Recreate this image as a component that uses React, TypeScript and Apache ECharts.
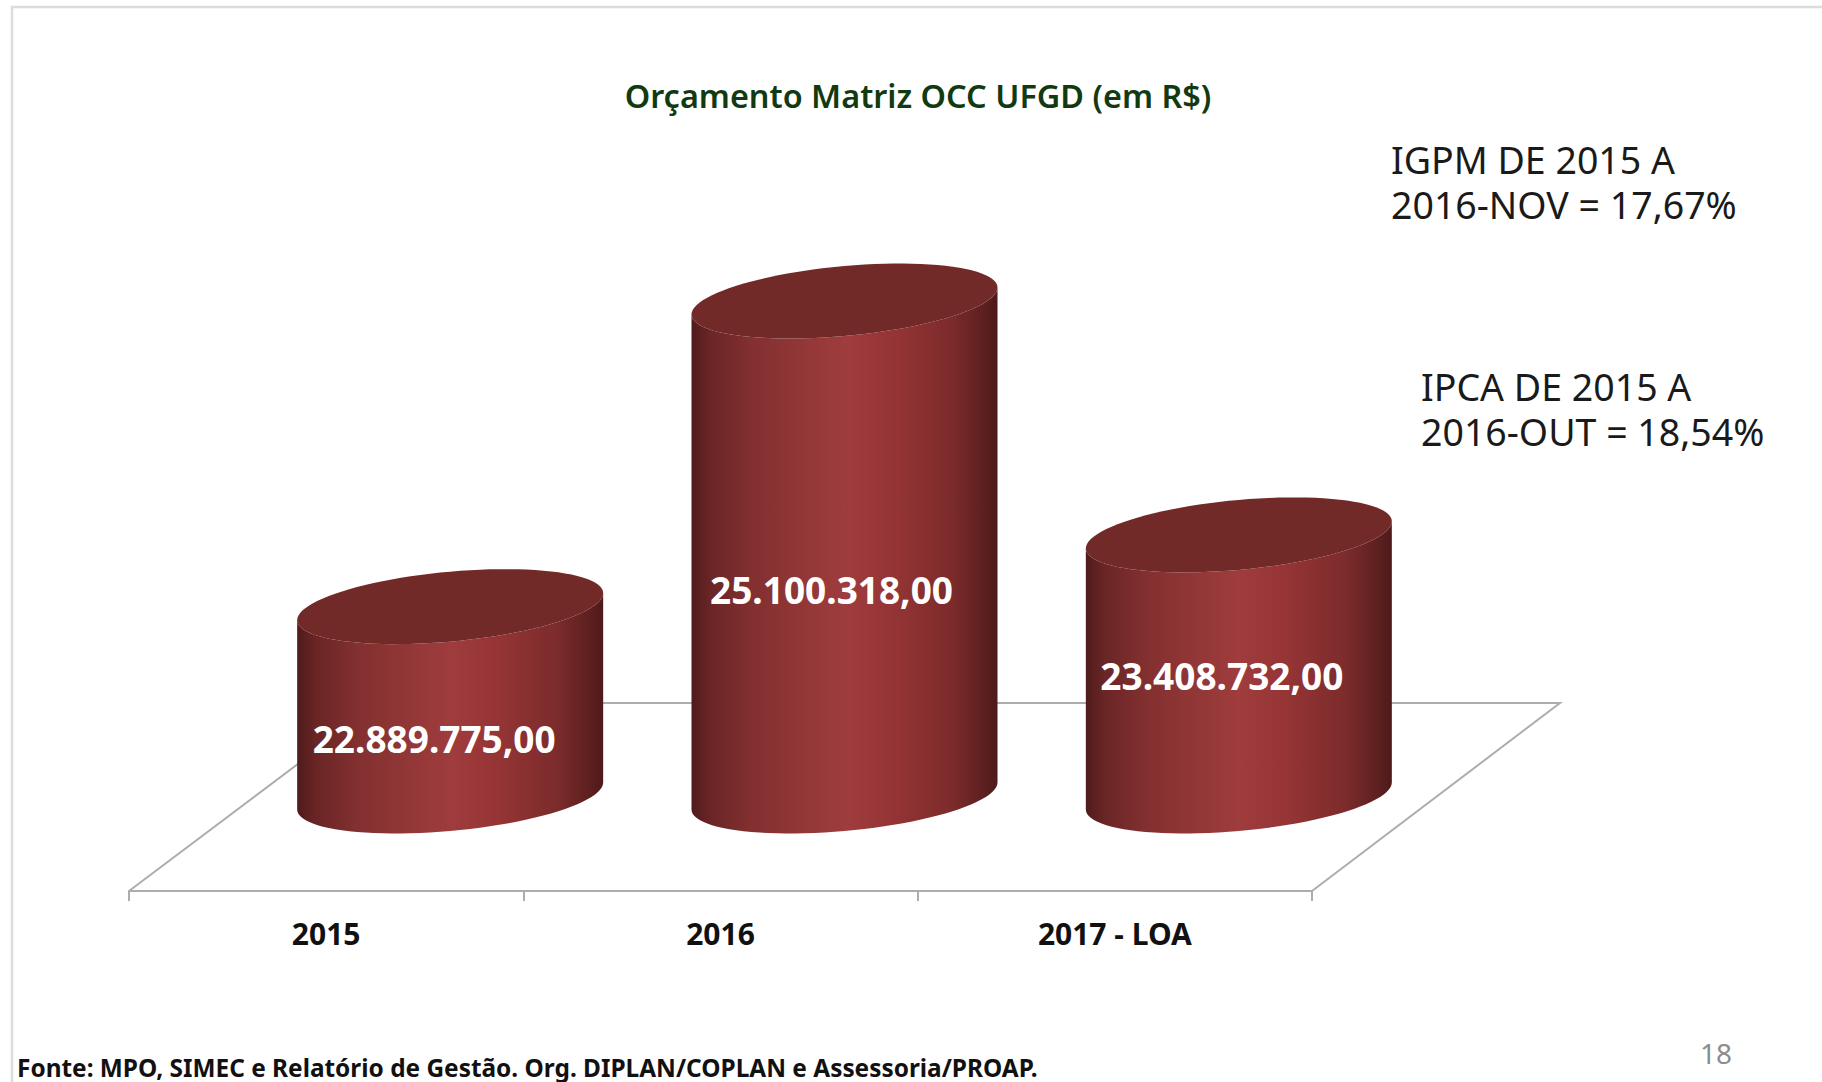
import React, { useEffect, useRef } from "react";
import * as echarts from "echarts";

const titleText = "Orçamento Matriz OCC UFGD (em R$)";
const categories = ["2015", "2016", "2017 - LOA"];
const budgetValues = [22889775, 25100318, 23408732];
const igpmNote = "IGPM DE 2015 A\n2016-NOV = 17,67%";
const ipcaNote = "IPCA DE 2015 A\n2016-OUT = 18,54%";
const sourceNote = "Fonte: MPO, SIMEC e Relatório de Gestão. Org. DIPLAN/COPLAN e Assessoria/PROAP.";
const pageNumber = "18";

const W = 1822;
const H = 1082;
const labelNudges = [[-16, 37], [-13, 41], [-17, 10]];

function formatBRL(v: number) {
  const s = String(Math.round(v)).replace(/\B(?=(\d{3})+(?!\d))/g, ".");
  return s + ",00";
}

const FLOOR = { fl: [129, 891], bl: [379, 703], br: [1560, 703], fr: [1312, 891] };

export default function App() {
  const ref = useRef<HTMLDivElement>(null);
  useEffect(() => {
    const chart = echarts.init(ref.current!, undefined, { renderer: "svg" });
    const sideFill = new echarts.graphic.LinearGradient(0, 0, 1, 0, [
      { offset: 0, color: "#4f1b1b" },
      { offset: 0.06, color: "#6a2525" },
      { offset: 0.2, color: "#833030" },
      { offset: 0.5, color: "#9f3c3d" },
      { offset: 0.64, color: "#973536" },
      { offset: 0.85, color: "#7c2b2b" },
      { offset: 0.95, color: "#5f2020" },
      { offset: 1, color: "#4e1a1a" },
    ]);
    const renderCylinder = (params: any, api: any) => {
      const i = api.value(0);
      const top = api.coord([i, api.value(1)]);
      const base = api.coord([i, 21520000]);
      const band = api.size([1, 0])[0];
      const a = band * 0.388;
      const b = 35;
      const shear = 13.5;
      const cx = top[0];
      const steps = 96;
      const ell = (cy: number, t: number) => {
        const c = Math.cos(t);
        return [cx + a * c, cy + b * Math.sin(t) - shear * c];
      };
      const topPts: number[][] = [];
      for (let s = 0; s < steps; s++) topPts.push(ell(top[1], (s / steps) * Math.PI * 2));
      const sidePts: number[][] = [];
      for (let s = 0; s <= steps / 2; s++) sidePts.push(ell(base[1], (s / (steps / 2)) * Math.PI));
      for (let s = steps / 2; s >= 0; s--) sidePts.push(ell(top[1], (s / (steps / 2)) * Math.PI));
      const nudge = labelNudges[i];
      return {
        type: "group",
        children: [
          { type: "polygon", shape: { points: sidePts }, style: { fill: sideFill } },
          { type: "polygon", shape: { points: topPts }, style: { fill: "#722a28" } },
          {
            type: "text",
            x: cx + nudge[0],
            y: (top[1] + base[1]) / 2 + nudge[1],
            style: {
              text: formatBRL(api.value(1)),
              fill: "#ffffff",
              font: 'bold 37px "Noto Sans"',
              align: "center",
              verticalAlign: "middle",
            },
          },
        ],
      };
    };

    const gray = "#adadad";
    const textEl = (x: number, y: number, text: string, font: string, fill: string, lineHeight?: number) => ({
      type: "text",
      x,
      y,
      z: 5,
      style: { text, font, fill, lineHeight, verticalAlign: "top" },
    });

    chart.setOption({
      animation: false,
      backgroundColor: "#ffffff",
      title: {
        text: titleText,
        left: 913,
        top: 74,
        textAlign: "center",
        textStyle: { color: "#123a10", fontFamily: "Noto Sans", fontSize: 32.4, fontWeight: 600 },
      },
      grid: [
        { left: 129, top: 790, width: 1183, height: 101 },
        { left: 253, top: 243, width: 1183, height: 553 },
      ],
      xAxis: [
        {
          type: "category",
          gridIndex: 0,
          data: categories,
          axisLine: { lineStyle: { color: gray, width: 2 } },
          axisTick: { show: true, length: 10, lineStyle: { color: gray, width: 2 } },
          axisLabel: {
            margin: 27,
            color: "#111111",
            fontFamily: "Noto Sans",
            fontWeight: "bold",
            fontSize: 30,
            interval: 0,
          },
        },
        { type: "category", gridIndex: 1, data: categories, show: false },
      ],
      yAxis: [
        { type: "value", gridIndex: 0, show: false },
        { type: "value", gridIndex: 1, show: false, min: 21520000, max: 25520000, splitLine: { show: false } },
      ],
      graphic: [
        {
          type: "polyline",
          z: 0,
          shape: { points: [[12, H], [12, 7], [W, 7]] },
          style: { stroke: "#dcdcdc", lineWidth: 2.5, fill: "none" },
        },
        {
          type: "polyline",
          z: 0,
          shape: { points: [FLOOR.fl, FLOOR.bl, FLOOR.br, FLOOR.fr] },
          style: { stroke: gray, lineWidth: 2, fill: "none" },
        },
        textEl(1391, 137, igpmNote, '37.5px "Noto Sans"', "#1a1a1a", 45),
        textEl(1421, 364, ipcaNote, '37.5px "Noto Sans"', "#1a1a1a", 45),
        textEl(17, 1055, sourceNote, 'bold 24.4px "Noto Sans"', "#111111"),
        textEl(1700, 1039, pageNumber, '28px "Noto Sans"', "#8c8c8c"),
      ],
      series: [
        {
          type: "custom",
          xAxisIndex: 1,
          yAxisIndex: 1,
          clip: false,
          z: 3,
          renderItem: renderCylinder,
          encode: { x: 0, y: 1 },
          data: budgetValues.map((v, i) => [i, v]),
        },
      ],
    });
    return () => chart.dispose();
  }, []);
  return <div ref={ref} style={{ position: "fixed", left: 0, top: 0, width: W, height: H }} />;
}
